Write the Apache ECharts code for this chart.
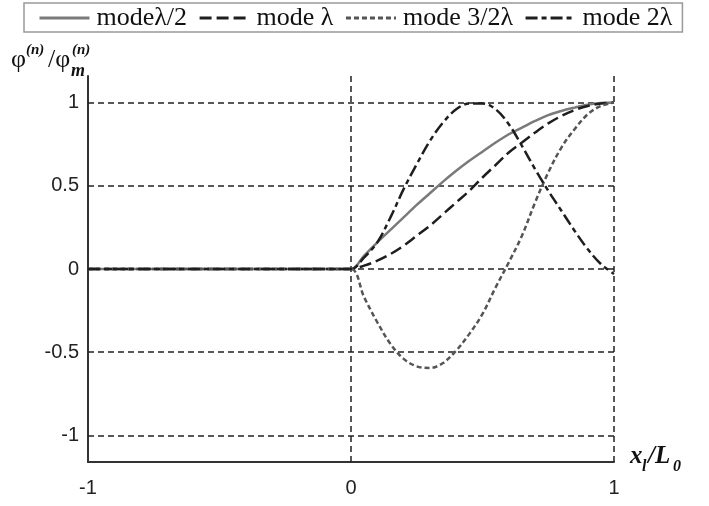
<!DOCTYPE html>
<html>
<head>
<meta charset="utf-8">
<script src="https://cdn.jsdelivr.net/npm/echarts@6/dist/echarts.min.js"></script>
<style>
html, body { margin: 0; padding: 0; background: #fff; }
#chart { width: 709px; height: 506px; }
</style>
</head>
<body>
<div id="chart"></div>
<script>
// x positions (x_l / L_0)
var xs = [-1, -0.5, -0.1, 0, 0.05, 0.1, 0.15, 0.2, 0.25, 0.3, 0.35, 0.4, 0.45, 0.5, 0.55, 0.6, 0.65, 0.7, 0.75, 0.8, 0.85, 0.9, 0.95, 1]
// mode shapes
var modeHalf = [0, 0, 0, 0, 0.08, 0.16, 0.235, 0.31, 0.385, 0.455, 0.525, 0.59, 0.65, 0.705, 0.76, 0.81, 0.85, 0.89, 0.925, 0.95, 0.97, 0.988, 0.997, 1]
var modeOne = [0, 0, 0, 0, 0.02, 0.05, 0.09, 0.14, 0.2, 0.26, 0.33, 0.4, 0.47, 0.55, 0.625, 0.7, 0.76, 0.82, 0.875, 0.92, 0.955, 0.98, 0.995, 1]
var modeThreeHalf = [0, 0, 0, 0, -0.17, -0.32, -0.45, -0.54, -0.585, -0.595, -0.565, -0.49, -0.39, -0.27, -0.11, 0.04, 0.2, 0.4, 0.58, 0.73, 0.84, 0.93, 0.98, 1]
var modeTwo = [0, 0, 0, 0, 0.07, 0.16, 0.31, 0.48, 0.63, 0.77, 0.88, 0.96, 0.995, 0.995, 0.96, 0.87, 0.74, 0.6, 0.47, 0.35, 0.23, 0.12, 0.03, -0.03]
var yTicks = [-1, -0.5, 0, 0.5, 1]
var xGrid = [0, 1]
var names = ['modeλ/2', 'mode λ', 'mode 3/2λ', 'mode 2λ']

function pairs(ys) {
    return xs.map(function (x, i) { return [x, ys[i]] })
}

var dashStyle = { color: '#222', type: [6, 4], width: 1.5 }
var serifBold = { fontFamily: 'Liberation Serif', fontStyle: 'italic', fontWeight: 'bold', fill: '#111' }

function txt(left, top, text, size, style) {
    return { type: 'text', left: left, top: top, style: Object.assign({ text: text, fontSize: size, fontFamily: 'Liberation Serif', fill: '#111' }, style || {}) }
}

var mychart = echarts.init(document.getElementById('chart'))
mychart.setOption({
    animation: false,
    legend: {
        left: 24,
        top: 3,
        padding: [2, 10, 1, 14],
        itemGap: 11,
        itemWidth: 50,
        itemHeight: 14,
        borderColor: '#999',
        borderWidth: 1.5,
        itemStyle: { opacity: 0 },
        lineStyle: { width: 3 },
        textStyle: { fontFamily: 'Liberation Serif', fontSize: 26, color: '#111', padding: [0, 0, 0, 2] },
        data: names
    },
    grid: { left: 88, right: 95, top: 76, bottom: 44 },
    xAxis: {
        type: 'value',
        min: -1,
        max: 1,
        interval: 1,
        axisLine: { onZero: false, lineStyle: { color: '#333', width: 2 } },
        axisTick: { show: false },
        splitLine: { show: false },
        axisLabel: { margin: 16, fontFamily: 'Liberation Sans', fontSize: 20, color: '#222' }
    },
    yAxis: {
        type: 'value',
        min: -1.16,
        max: 1.16,
        axisLine: { show: true, onZero: false, lineStyle: { color: '#333', width: 2 } },
        axisTick: { show: false },
        splitLine: { show: false },
        axisLabel: {
            customValues: yTicks,
            margin: 9,
            fontFamily: 'Liberation Sans',
            fontSize: 20,
            color: '#222'
        }
    },
    graphic: [
        txt(11, 47, 'φ', 26),
        txt(26, 43, '(n)', 15, serifBold),
        txt(48, 47, '/φ', 26),
        txt(72, 43, '(n)', 15, serifBold),
        txt(71, 62, 'm', 18, serifBold),
        txt(630, 444, 'x', 25, serifBold),
        txt(642, 459, 'l', 16, serifBold),
        txt(648, 444, '/L', 25, serifBold),
        txt(673, 459, '0', 16, serifBold)
    ],
    series: [
        {
            name: names[0],
            type: 'line',
            data: pairs(modeHalf),
            symbol: 'none',
            smooth: 0.35,
            z: 5,
            lineStyle: { color: '#7a7a7a', width: 2.5, type: 'solid' },
            itemStyle: { color: '#7a7a7a' },
            markLine: {
                silent: true,
                symbol: 'none',
                label: { show: false },
                lineStyle: dashStyle,
                data: yTicks.map(function (v) { return { yAxis: v } })
                    .concat(xGrid.map(function (v) { return { xAxis: v } }))
            }
        },
        {
            name: names[1],
            type: 'line',
            data: pairs(modeOne),
            symbol: 'none',
            smooth: 0.35,
            z: 5,
            lineStyle: { color: '#1e1e1e', width: 2.5, type: [12, 5] },
            itemStyle: { color: '#1e1e1e' }
        },
        {
            name: names[2],
            type: 'line',
            data: pairs(modeThreeHalf),
            symbol: 'none',
            smooth: 0.35,
            z: 5,
            lineStyle: { color: '#555', width: 2.5, type: [5, 3] },
            itemStyle: { color: '#555' }
        },
        {
            name: names[3],
            type: 'line',
            data: pairs(modeTwo),
            symbol: 'none',
            smooth: 0.35,
            z: 5,
            lineStyle: { color: '#1e1e1e', width: 2.5, type: [12, 4, 5, 4] },
            itemStyle: { color: '#1e1e1e' }
        }
    ]
})
</script>
</body>
</html>
